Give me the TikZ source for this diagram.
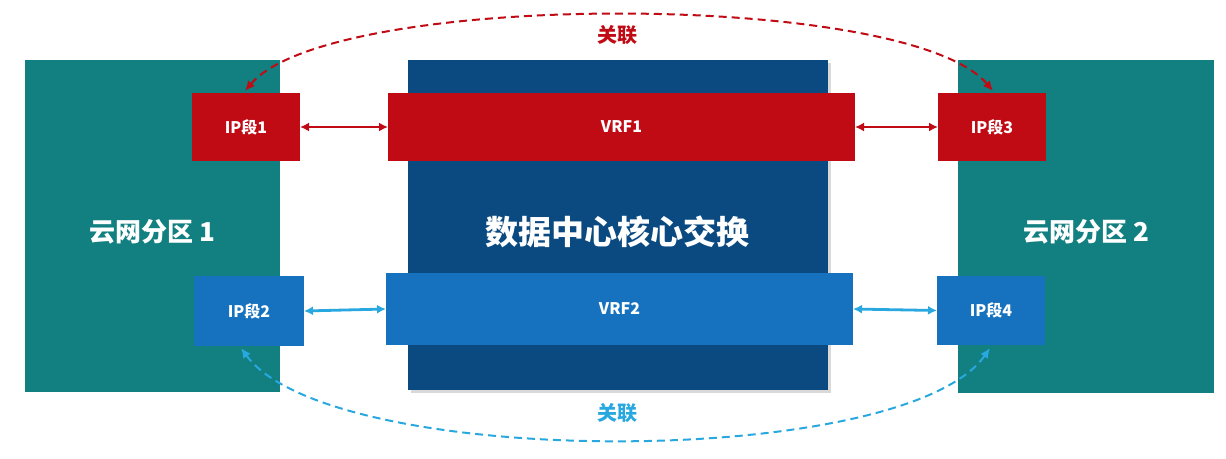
\documentclass[tikz,border=0pt]{standalone}
\usepackage{fontspec}
\setmainfont{Noto Sans CJK SC}
\usetikzlibrary{arrows.meta,shadows}
\definecolor{teal1}{HTML}{128080}
\definecolor{dblue}{HTML}{0B4A80}
\definecolor{red1}{HTML}{C00A14}
\definecolor{blue1}{HTML}{1672BE}
\definecolor{lblue}{HTML}{29A8E0}
\tikzset{
 bx/.style={inner sep=0pt,outer sep=0pt,font=\bfseries\fontsize{16}{16}\selectfont,text=white},
 rbx/.style={bx,fill=red1},
 bbx/.style={bx,fill=blue1},
 rar/.style={draw=red1,line width=2.8pt,{Latex[length=9pt,width=9pt]}-{Latex[length=9pt,width=9pt]}},
 bar/.style={draw=lblue,line width=2.8pt,{Latex[length=9pt,width=9pt]}-{Latex[length=9pt,width=9pt]}},
 dsh/.style={line width=2pt,dash pattern=on 8pt off 5pt,{Latex[length=10pt,width=9pt]}-{Latex[length=10pt,width=9pt]}},
}
\begin{document}
\begin{tikzpicture}[x=1pt,y=-1pt]
\useasboundingbox (0,0) rectangle (1226,458);
\node[bx,fill=teal1,minimum width=255,minimum height=332] (L) at (152.5,226) {};
\node[bx,fill=teal1,minimum width=256,minimum height=333] (R) at (1086,226.5) {};
\node[bx,fill=dblue,minimum width=420,minimum height=330,drop shadow={opacity=0.3}] (C) at (618,225) {};
\node[bx,font=\bfseries\fontsize{26}{26}\selectfont] (Lt) at (152,232) {云网分区 1};
\node[bx,font=\bfseries\fontsize{26}{26}\selectfont] (Rt) at (1086,232) {云网分区 2};
\node[bx,font=\bfseries\fontsize{33}{33}\selectfont] (Ct) at (617,232) {数据中心核心交换};
\node[rbx,minimum width=467,minimum height=68] (V1) at (621.5,127) {VRF1};
\node[bbx,minimum width=467,minimum height=72] (V2) at (619.5,309) {VRF2};
\node[rbx,minimum width=108,minimum height=68] (I1) at (246,127) {IP段1};
\node[rbx,minimum width=108,minimum height=68] (I3) at (992,127) {IP段3};
\node[bbx,minimum width=110,minimum height=70] (I2) at (249,311) {IP段2};
\node[bbx,minimum width=108,minimum height=69] (I4) at (991,310.5) {IP段4};
\draw[rar] (I1.east) -- (V1.west);
\draw[rar] (V1.east) -- (I3.west);
\draw[bar] (I2.east) -- (V2.west);
\draw[bar] (V2.east) -- (I4.west);
\coordinate (a1) at (245,91);
\coordinate (a3) at (993,91);
\coordinate (a2) at (241,348);
\coordinate (a4) at (990,348);
\draw[red1,dsh] (a1) .. controls (330,-10) and (908,-10) .. (a3);
\draw[lblue,dsh] (a2) .. controls (330,470) and (905,470) .. (a4);
\node[bx,text=red1,font=\bfseries\fontsize{20}{20}\selectfont] (k1) at (617,35) {关联};
\node[bx,text=lblue,font=\bfseries\fontsize{20}{20}\selectfont] (k2) at (617,413) {关联};
\end{tikzpicture}
\end{document}
